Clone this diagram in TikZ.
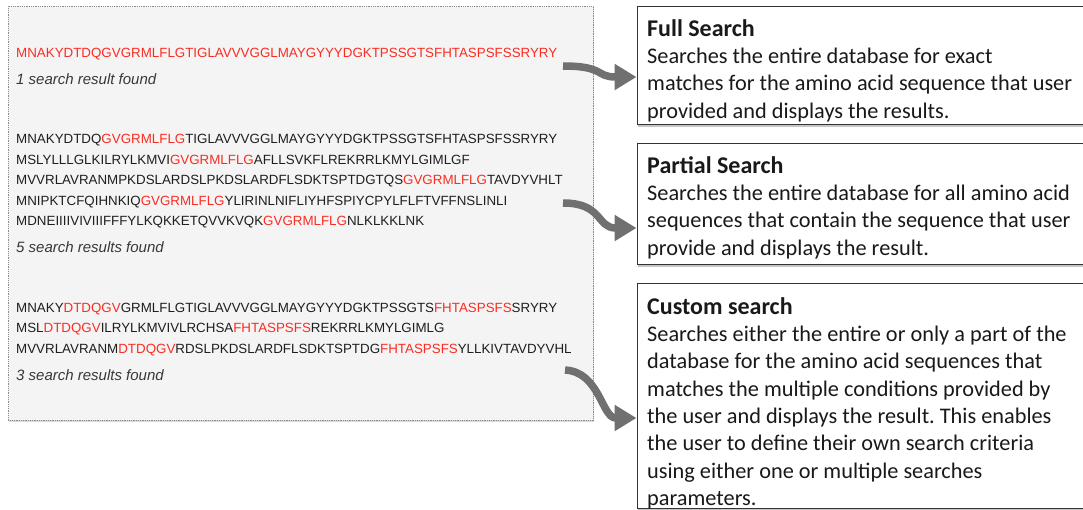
\documentclass[tikz,border=0pt]{standalone}
\usepackage{fontspec}
\setmainfont{Carlito}
\newfontfamily\seqfont{Liberation Sans}
\usetikzlibrary{arrows.meta,calc,shadows}
\definecolor{seqred}{RGB}{250,45,35}
\definecolor{panelfill}{RGB}{244,244,244}
\definecolor{arrowgray}{RGB}{112,112,112}
\newcommand\redseq[1]{\textcolor{seqred}{#1}}
\newcommand\boxtitle{\bfseries\fontsize{24}{27.3}\selectfont}
\frenchspacing
\begin{document}
\begin{tikzpicture}[x=1pt,y=-1pt,
  seq/.style={anchor=base west, inner sep=0pt, font=\seqfont\fontsize{13.35}{15}\selectfont, text=black!88},
  found/.style={anchor=base west, inner sep=0pt, font=\seqfont\itshape\fontsize{15}{17}\selectfont, text=black!78},
  panelbox/.style={draw=black!45, densely dotted, line width=0.8pt, fill=panelfill, anchor=north west, inner sep=0pt,
    drop shadow={shadow xshift=0.8pt, shadow yshift=-1.2pt, opacity=0.3}},
  infobox/.style={draw=black!80, line width=1.1pt, fill=white, anchor=north west, inner sep=0pt,
    drop shadow={shadow xshift=1.2pt, shadow yshift=-2pt, opacity=0.45}},
  infotext/.style={anchor=north west, inner sep=0pt, align=left, font=\fontsize{22.3}{27.3}\selectfont, text=black!90},
  flow/.style={draw=arrowgray, line width=7.5pt, -{Triangle[length=22pt,width=25pt]}}
]
\useasboundingbox (0,0) rectangle (1083,509);

% left result panel
\node[panelbox, minimum width=585pt, minimum height=414pt] (panel) at (8,6) {};

\node[seq, text=seqred] (a1) at (16,57) {MNAKYDTDQGVGRMLFLGTIGLAVVVGGLMAYGYYYDGKTPSSGTSFHTASPSFSSRYRY};
\node[found] (af) at (16,84) {1 search result found};

\node[seq] (b1) at (16,143.5) {MNAKYDTDQ\redseq{GVGRMLFLG}TIGLAVVVGGLMAYGYYYDGKTPSSGTSFHTASPSFSSRYRY};
\node[seq] (b2) at (16,164) {MSLYLLLGLKILRYLKMVI\redseq{GVGRMLFLG}AFLLSVKFLREKRRLKMYLGIMLGF};
\node[seq] (b3) at (16,184.5) {MVVRLAVRANMPKDSLARDSLPKDSLARDFLSDKTSPTDGTQS\redseq{GVGRMLFLG}TAVDYVHLT};
\node[seq] (b4) at (16,205) {MNIPKTCFQIHNKIQ\redseq{GVGRMLFLG}YLIRINLNIFLIYHFSPIYCPYLFLFTVFFNSLINLI};
\node[seq] (b5) at (16,225.5) {MDNEIIIIVIVIIIFFFYLKQKKETQVVKVQK\redseq{GVGRMLFLG}NLKLKKLNK};
\node[found] (bf) at (16,252.5) {5 search results found};

\node[seq] (c1) at (16,312) {MNAKY\redseq{DTDQGV}GRMLFLGTIGLAVVVGGLMAYGYYYDGKTPSSGTS\redseq{FHTASPSFS}SRYRY};
\node[seq] (c2) at (16,332.5) {MSL\redseq{DTDQGV}ILRYLKMVIVLRCHSA\redseq{FHTASPSFS}REKRRLKMYLGIMLG};
\node[seq] (c3) at (16,353) {MVVRLAVRANM\redseq{DTDQGV}RDSLPKDSLARDFLSDKTSPTDG\redseq{FHTASPSFS}YLLKIVTAVDYVHL};
\node[found] (cf) at (16,380) {3 search results found};

% description boxes
\node[infobox, minimum width=450pt, minimum height=118pt] (full) at (636.5,6) {};
\node[infobox, minimum width=450pt, minimum height=121.5pt] (partial) at (636.5,142.5) {};
\node[infobox, minimum width=450pt, minimum height=225pt] (custom) at (636.5,283) {};

\node[infotext] (fullt) at (647,16) {\rule{0pt}{20pt}{\boxtitle Full Search}\\
Searches the entire database for exact\\
matches for the amino acid sequence that user\\
provided and displays the results.};

\node[infotext] (partialt) at (647,153) {\rule{0pt}{20pt}{\boxtitle Partial Search}\\
Searches the entire database for all amino acid\\
sequences that contain the sequence that user\\
provide and displays the result.};

\node[infotext] (customt) at (647,294) {\rule{0pt}{20pt}{\boxtitle Custom search}\\
Searches either the entire or only a part of the\\
database for the amino acid sequences that\\
matches the multiple conditions provided by\\
the user and displays the result. This enables\\
the user to define their own search criteria\\
using either one or multiple searches\\
parameters.};

% connectors
\coordinate (s1) at (563,66);
\coordinate (s2) at (563,203);
\coordinate (s3) at (565,370);
\draw[flow] (s1) .. controls +(42,0) and +(-41,0) .. ($(full.north west)+(0,71)$);
\draw[flow] (s2) .. controls +(40,0) and +(-40,0) .. ($(partial.north west)+(0,85.5)$);
\draw[flow] (s3) .. controls +(35,2) and +(-35,0) .. ($(custom.north west)+(0,135)$);
\end{tikzpicture}
\end{document}
